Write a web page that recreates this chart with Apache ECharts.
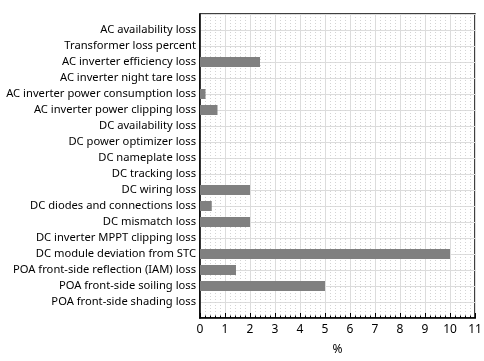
<!DOCTYPE html>
<html>
<head>
<meta charset="utf-8">
<script src="https://cdn.jsdelivr.net/npm/echarts@6/dist/echarts.min.js"></script>
<style>html,body{margin:0;padding:0;background:#fff;}#c{width:484px;height:361px;}</style>
</head>
<body>
<div id="c"></div>
<script>
var categories = [
  'AC availability loss',
  'Transformer loss percent',
  'AC inverter efficiency loss',
  'AC inverter night tare loss',
  'AC inverter power consumption loss',
  'AC inverter power clipping loss',
  'DC availability loss',
  'DC power optimizer loss',
  'DC nameplate loss',
  'DC tracking loss',
  'DC wiring loss',
  'DC diodes and connections loss',
  'DC mismatch loss',
  'DC inverter MPPT clipping loss',
  'DC module deviation from STC',
  'POA front-side reflection (IAM) loss',
  'POA front-side soiling loss',
  'POA front-side shading loss'
];
var lossValues = [0, 0, 2.4, 0, 0.22, 0.7, 0, 0, 0, 0, 2, 0.47, 2, 0, 10, 1.44, 5, 0];
var xAxisName = '%';

var padCats = [''].concat(categories).concat(['']);
var padVals = [null].concat(lossValues).concat([null]);
var FONT = 'Noto Sans';

var chart = echarts.init(document.getElementById('c'), null, {renderer: 'canvas'});
chart.setOption({
  animation: false,
  backgroundColor: '#fff',
  grid: {left: 200, right: 9, top: 14, bottom: 43, show: true, borderColor: '#000', borderWidth: 1.5, containLabel: false, outerBoundsMode: 'none'},
  xAxis: {
    type: 'value', min: 0, max: 11, interval: 1,
    name: xAxisName, nameLocation: 'middle', nameGap: 26,
    nameTextStyle: {color: '#000', fontSize: 12, fontFamily: FONT},
    axisLine: {show: true, lineStyle: {color: '#000', width: 1.5}},
    axisTick: {show: true, inside: true, length: 5, lineStyle: {color: '#000'}},
    minorTick: {show: true, splitNumber: 5, length: 2.5, lineStyle: {color: '#000'}},
    axisLabel: {color: '#000', fontSize: 12, fontFamily: FONT, margin: 6},
    splitLine: {show: true, lineStyle: {color: '#dcdcdc', width: 1}},
    minorSplitLine: {show: true, lineStyle: {color: '#d4d4d4', type: [1, 2], width: 1}}
  },
  yAxis: {
    type: 'category', data: padCats, inverse: true, boundaryGap: false,
    axisLine: {show: true, lineStyle: {color: '#000', width: 1.5}},
    axisTick: {show: false},
    axisLabel: {color: '#000', fontSize: 11.2, fontFamily: FONT, margin: 4, interval: 0},
    splitLine: {show: true, interval: 0, lineStyle: {color: '#dcdcdc', width: 1}}
  },
  series: [{
    type: 'bar', data: padVals, barWidth: 10,
    itemStyle: {color: '#808080'}
  }]
});
</script>
</body>
</html>
